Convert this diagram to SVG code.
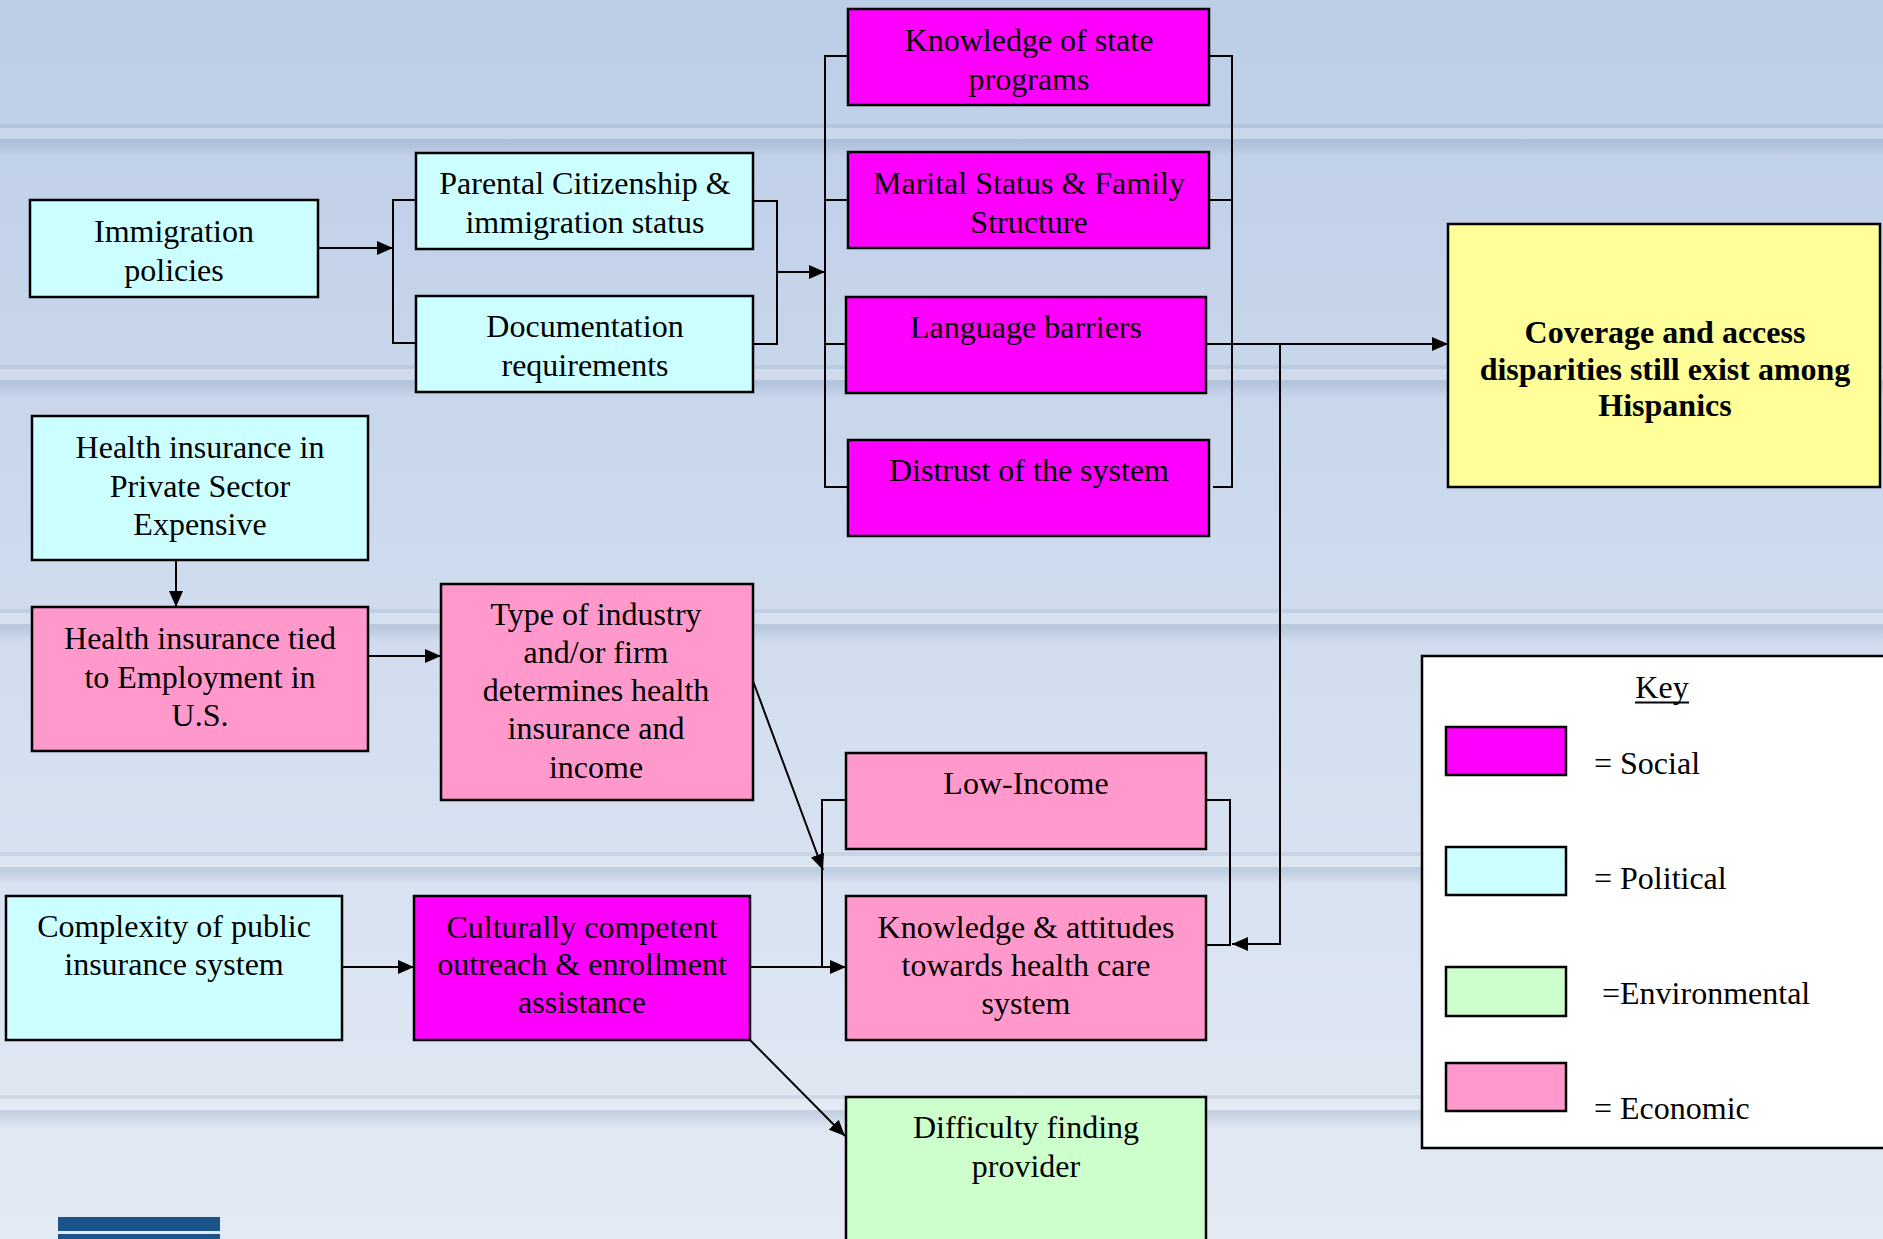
<svg xmlns="http://www.w3.org/2000/svg" width="1883" height="1239" viewBox="0 0 1883 1239">
<style>
.box{stroke:#000;stroke-width:2.5}
.soc{fill:#ff00ff}.pol{fill:#ccffff}.env{fill:#ccffcc}.eco{fill:#ff99cc}.out{fill:#ffff99}
text{font-family:"Liberation Serif","Times New Roman",serif;font-size:32px;fill:#000;transform:translateY(1px)}
.c{text-anchor:middle}
.b{font-weight:bold}
.ln{fill:none;stroke:#000;stroke-width:2}
.ar{fill:none;stroke:#000;stroke-width:2;marker-end:url(#ah)}
</style>
<defs>
<linearGradient id="bg" x1="0" y1="0" x2="0" y2="1">
<stop offset="0" stop-color="#bccde6"/>
<stop offset="0.5" stop-color="#d0dcee"/>
<stop offset="1" stop-color="#e4eaf4"/>
</linearGradient>
<linearGradient id="sh" x1="0" y1="0" x2="0" y2="1">
<stop offset="0" stop-color="#6f86a8" stop-opacity="0.22"/>
<stop offset="1" stop-color="#6f86a8" stop-opacity="0"/>
</linearGradient>
<g id="stripe">
<rect x="0" y="0" width="1883" height="4" fill="#6f86a8" opacity="0.14"/>
<rect x="0" y="4" width="1883" height="11" fill="#ffffff" opacity="0.14"/>
<rect x="0" y="15" width="1883" height="4" fill="#6f86a8" opacity="0.22"/>
<rect x="0" y="19" width="1883" height="14" fill="url(#sh)"/>
</g>
<marker id="ah" markerUnits="userSpaceOnUse" markerWidth="16" markerHeight="14" refX="16" refY="7" orient="auto">
<path d="M0,0 L16,7 L0,14 z" fill="#000"/>
</marker>
</defs>
<rect x="0" y="0" width="1883" height="1239" fill="url(#bg)"/>
<use href="#stripe" y="124"/>
<use href="#stripe" y="365"/>
<use href="#stripe" y="609"/>
<use href="#stripe" y="852"/>
<use href="#stripe" y="1095"/>
<rect x="58" y="1217" width="162" height="14" fill="#1b5488"/>
<rect x="58" y="1234" width="162" height="5" fill="#1b5488"/>

<g id="connectors">
<line class="ar" x1="318" y1="248" x2="393" y2="248"/>
<path class="ln" d="M416,200 H393 V343 H416"/>
<path class="ln" d="M753,201 H777 V344 H753"/>
<line class="ar" x1="777" y1="272" x2="825" y2="272"/>
<path class="ln" d="M848,56 H825 V487 H848 M825,200 H848 M825,344 H846"/>
<path class="ln" d="M1209,56 H1232 V487 H1213 M1209,200 H1232"/>
<line class="ar" x1="1206" y1="344" x2="1448" y2="344"/>
<path class="ar" d="M1280,344 V944 H1232"/>
<line class="ar" x1="176" y1="560" x2="176" y2="607"/>
<line class="ar" x1="368" y1="656" x2="441" y2="656"/>
<line class="ar" x1="753" y1="681" x2="823" y2="870"/>
<path class="ln" d="M846,800 H822 V967"/>
<path class="ln" d="M1206,800 H1230 V945 H1206"/>
<line class="ar" x1="342" y1="967" x2="414" y2="967"/>
<line class="ar" x1="750" y1="967" x2="846" y2="967"/>
<line class="ar" x1="750" y1="1040" x2="845" y2="1136"/>
</g>

<g id="immigration">
<rect class="box pol" x="30" y="200" width="288" height="97"/>
<text class="c" x="174" y="241">Immigration</text>
<text class="c" x="174" y="280">policies</text>
</g>
<g id="parental">
<rect class="box pol" x="416" y="153" width="337" height="96"/>
<text class="c" x="585" y="193">Parental Citizenship &amp;</text>
<text class="c" x="585" y="232">immigration status</text>
</g>
<g id="documentation">
<rect class="box pol" x="416" y="296" width="337" height="96"/>
<text class="c" x="585" y="336">Documentation</text>
<text class="c" x="585" y="375">requirements</text>
</g>
<g id="knowledge-state">
<rect class="box soc" x="848" y="9" width="361" height="96"/>
<text class="c" x="1029" y="50">Knowledge of state</text>
<text class="c" x="1029" y="89">programs</text>
</g>
<g id="marital">
<rect class="box soc" x="848" y="152" width="361" height="96"/>
<text class="c" x="1029" y="193">Marital Status &amp; Family</text>
<text class="c" x="1029" y="232">Structure</text>
</g>
<g id="language">
<rect class="box soc" x="846" y="297" width="360" height="96"/>
<text class="c" x="1026" y="337">Language barriers</text>
</g>
<g id="distrust">
<rect class="box soc" x="848" y="440" width="361" height="96"/>
<text class="c" x="1029" y="480">Distrust of the system</text>
</g>
<g id="coverage">
<rect class="box out" x="1448" y="224" width="432" height="263"/>
<text class="c b" x="1665" y="342">Coverage and access</text>
<text class="c b" x="1665" y="379">disparities still exist among</text>
<text class="c b" x="1665" y="415">Hispanics</text>
</g>
<g id="private-sector">
<rect class="box pol" x="32" y="416" width="336" height="144"/>
<text class="c" x="200" y="457">Health insurance in</text>
<text class="c" x="200" y="496">Private Sector</text>
<text class="c" x="200" y="534">Expensive</text>
</g>
<g id="employment">
<rect class="box eco" x="32" y="607" width="336" height="144"/>
<text class="c" x="200" y="648">Health insurance tied</text>
<text class="c" x="200" y="687">to Employment in</text>
<text class="c" x="200" y="725">U.S.</text>
</g>
<g id="industry">
<rect class="box eco" x="441" y="584" width="312" height="216"/>
<text class="c" x="596" y="624">Type of industry</text>
<text class="c" x="596" y="662">and/or firm</text>
<text class="c" x="596" y="700">determines health</text>
<text class="c" x="596" y="738">insurance and</text>
<text class="c" x="596" y="777">income</text>
</g>
<g id="low-income">
<rect class="box eco" x="846" y="753" width="360" height="96"/>
<text class="c" x="1026" y="793">Low-Income</text>
</g>
<g id="attitudes">
<rect class="box eco" x="846" y="896" width="360" height="144"/>
<text class="c" x="1026" y="937">Knowledge &amp; attitudes</text>
<text class="c" x="1026" y="975">towards health care</text>
<text class="c" x="1026" y="1013">system</text>
</g>
<g id="complexity">
<rect class="box pol" x="6" y="896" width="336" height="144"/>
<text class="c" x="174" y="936">Complexity of public</text>
<text class="c" x="174" y="974">insurance system</text>
</g>
<g id="culturally">
<rect class="box soc" x="414" y="896" width="336" height="144"/>
<text class="c" x="582" y="937">Culturally competent</text>
<text class="c" x="582" y="974">outreach &amp; enrollment</text>
<text class="c" x="582" y="1012">assistance</text>
</g>
<g id="difficulty">
<rect class="box env" x="846" y="1097" width="360" height="160"/>
<text class="c" x="1026" y="1137">Difficulty finding</text>
<text class="c" x="1026" y="1176">provider</text>
</g>
<g id="key">
<rect x="1422" y="656" width="480" height="492" fill="#fff" stroke="#000" stroke-width="2.5"/>
<text class="c" x="1662" y="697">Key</text>
<line x1="1635" y1="702.5" x2="1689" y2="702.5" stroke="#000" stroke-width="2"/>
<rect class="box soc" x="1446" y="727" width="120" height="48"/>
<text x="1594" y="773">= Social</text>
<rect class="box pol" x="1446" y="847" width="120" height="48"/>
<text x="1594" y="888">= Political</text>
<rect class="box env" x="1446" y="967" width="120" height="49"/>
<text x="1602" y="1003">=Environmental</text>
<rect class="box eco" x="1446" y="1063" width="120" height="48"/>
<text x="1594" y="1118">= Economic</text>
</g>
</svg>
